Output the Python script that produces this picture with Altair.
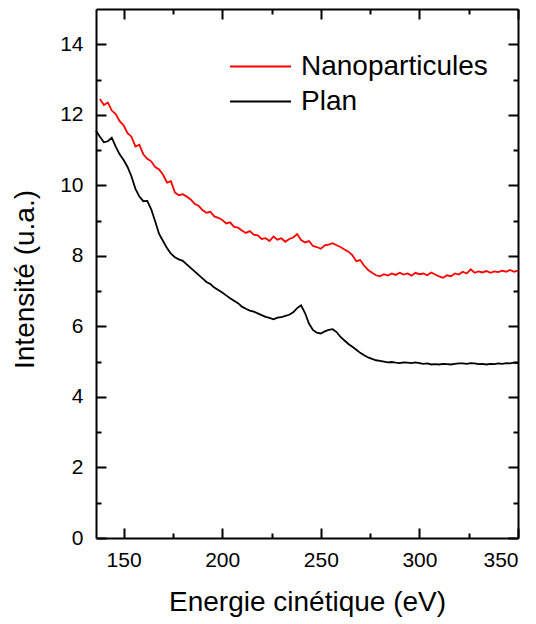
import altair as alt
import pandas as pd

# Energy grids (eV)
energy_nano = list(range(138, 351, 2))
energy_plan = list(range(136, 351, 2))

# Intensité (u.a.)
nano = [
    12.45, 12.28, 12.35, 12.12, 12.02, 11.82, 11.70, 11.48, 11.38, 11.10,
    11.15, 10.88, 10.75, 10.68, 10.52, 10.45, 10.30, 10.08, 10.12, 9.80,
    9.72, 9.75, 9.68, 9.60, 9.48, 9.42, 9.30, 9.22, 9.25, 9.12,
    9.08, 9.02, 8.92, 8.95, 8.82, 8.80, 8.72, 8.65, 8.70, 8.60,
    8.58, 8.48, 8.50, 8.42, 8.55, 8.46, 8.50, 8.40, 8.48, 8.52,
    8.62, 8.45, 8.38, 8.42, 8.28, 8.25, 8.20, 8.30, 8.32, 8.36,
    8.30, 8.25, 8.18, 8.12, 8.02, 7.85, 7.88, 7.72, 7.60, 7.52,
    7.45, 7.42, 7.48, 7.44, 7.50, 7.46, 7.52, 7.47, 7.50, 7.44,
    7.52, 7.48, 7.50, 7.45, 7.53, 7.47, 7.42, 7.38, 7.45, 7.42,
    7.50, 7.47, 7.55, 7.50, 7.62, 7.52, 7.56, 7.53, 7.57, 7.52,
    7.56, 7.54, 7.58, 7.55, 7.60, 7.55, 7.58,
]
plan = [
    11.55, 11.38, 11.22, 11.25, 11.35, 11.10, 10.88, 10.72, 10.52, 10.25,
    9.90, 9.68, 9.55, 9.56, 9.32, 8.98, 8.62, 8.42, 8.22, 8.06,
    7.96, 7.90, 7.86, 7.76, 7.66, 7.56, 7.46, 7.36, 7.26, 7.20,
    7.10, 7.03, 6.96, 6.88, 6.80, 6.73, 6.66, 6.56, 6.50, 6.45,
    6.42, 6.37, 6.32, 6.27, 6.24, 6.20, 6.25, 6.26, 6.30, 6.33,
    6.40, 6.52, 6.60, 6.38, 6.08, 5.90, 5.82, 5.80, 5.86, 5.90,
    5.92, 5.84, 5.70, 5.60, 5.50, 5.42, 5.34, 5.25, 5.18, 5.12,
    5.08, 5.04, 5.02, 5.00, 4.98, 4.99, 4.97, 4.96, 4.98, 4.97,
    4.96, 4.98, 4.96, 4.94, 4.95, 4.92, 4.93, 4.92, 4.94, 4.93,
    4.92, 4.94, 4.95, 4.95, 4.94, 4.96, 4.95, 4.93, 4.94, 4.92,
    4.94, 4.93, 4.95, 4.94, 4.96, 4.95, 4.97, 4.96,
]

series_names = ["Nanoparticules", "Plan"]
series_colors = ["#ff0000", "#000000"]

x_major = [150, 200, 250, 300, 350]
x_minor = [175, 225, 275, 325]
y_major = [0, 2, 4, 6, 8, 10, 12, 14]
y_minor = [1, 3, 5, 7, 9, 11, 13]

df = pd.concat([
    pd.DataFrame({"energie": energy_nano, "intensite": nano, "serie": series_names[0]}),
    pd.DataFrame({"energie": energy_plan, "intensite": plan, "serie": series_names[1]}),
])

W, H = 422, 529
FONT = "Liberation Sans"

xscale = alt.Scale(domain=[136, 350], nice=False, zero=False)
yscale = alt.Scale(domain=[0, 15], nice=False, zero=True)


def tick_axis(orient, values, size, offset, frame):
    return alt.Axis(orient=orient, values=values, tickSize=size, offset=offset,
                    labels=False, domain=frame, domainColor="black", domainWidth=2,
                    grid=False, title=None, tickColor="black", tickWidth=2)


main = alt.Chart(df).mark_line(strokeWidth=1.8).encode(
    x=alt.X("energie:Q", scale=xscale,
            axis=alt.Axis(orient="bottom", values=x_major, ticks=False, tickSize=0,
                          domain=False, grid=False, labelPadding=11,
                          labelFontSize=21, labelFont=FONT, labelColor="black",
                          title="Energie cinétique (eV)", titleFontSize=28,
                          titleFont=FONT, titleFontWeight="normal", titleColor="black",
                          titleBaseline="alphabetic", titleY=72)),
    y=alt.Y("intensite:Q", scale=yscale,
            axis=alt.Axis(orient="left", values=y_major, ticks=False, tickSize=0,
                          domain=False, grid=False, labelPadding=13,
                          labelFontSize=21, labelFont=FONT, labelColor="black",
                          title="Intensité (u.a.)", titleFontSize=28,
                          titleFont=FONT, titleFontWeight="normal", titleColor="black",
                          titleBaseline="alphabetic", titleX=-63, titleY=270)),
    color=alt.Color("serie:N",
                    scale=alt.Scale(domain=series_names, range=series_colors),
                    legend=alt.Legend(title=None, orient="none", legendX=148, legendY=41,
                                      symbolType="M-2,0H2", symbolSize=930,
                                      symbolStrokeWidth=1.8, labelFontSize=28,
                                      labelFont=FONT, labelColor="black", labelLimit=0,
                                      labelOffset=24, rowPadding=4, padding=0)),
    detail="serie:N",
)

layers = [main]
specs = [
    (tick_axis("top", x_major, 10, -H, True), tick_axis("right", y_major, 10, -W, True)),
    (tick_axis("top", x_minor, 5, -H, False), tick_axis("right", y_minor, 5, -W, False)),
    (tick_axis("bottom", x_major, 10, -H, True), tick_axis("left", y_major, 10, -W, True)),
    (tick_axis("bottom", x_minor, 5, -H, False), tick_axis("left", y_minor, 5, -W, False)),
]
for xa, ya in specs:
    layers.append(
        alt.Chart(df).mark_line(opacity=0).encode(
            x=alt.X("energie:Q", scale=xscale, axis=xa),
            y=alt.Y("intensite:Q", scale=yscale, axis=ya),
            detail="serie:N",
        )
    )

chart = alt.layer(*layers).resolve_axis(x="independent", y="independent").properties(
    width=W, height=H,
    background="white",
    autosize=alt.AutoSizeParams(type="none"),
    padding={"left": 88, "top": 1, "right": 10, "bottom": 79},
).configure_view(strokeWidth=0)

chart.save("out.html", embed_options={"renderer": "svg", "actions": False})
